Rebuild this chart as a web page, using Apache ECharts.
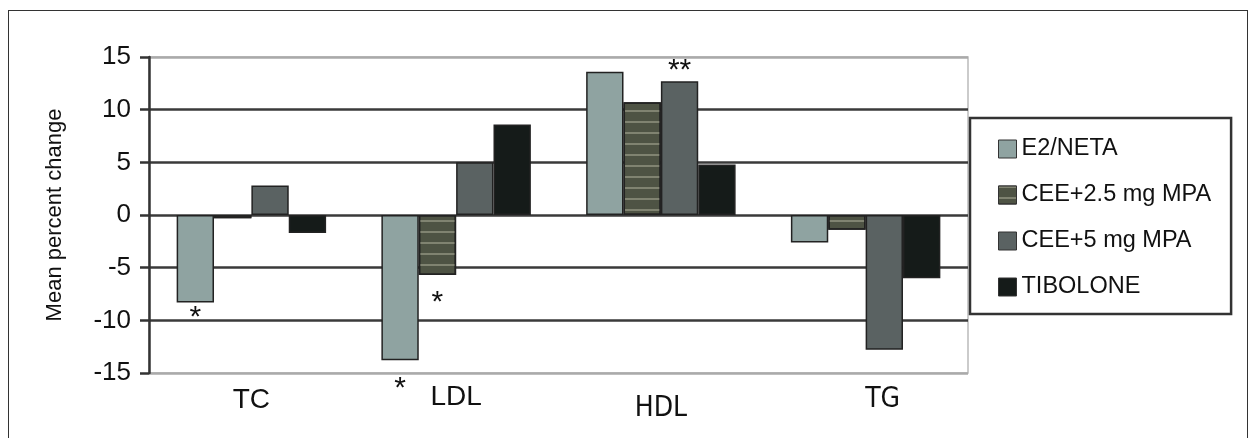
<!DOCTYPE html>
<html>
<head>
<meta charset="utf-8">
<script src="https://cdn.jsdelivr.net/npm/echarts@6/dist/echarts.min.js"></script>
<style>
html,body{margin:0;padding:0;background:#fff;}
#frame{position:absolute;left:8px;top:10px;width:1240px;height:440px;border:1.5px solid #333;box-sizing:border-box;}
#chart{position:absolute;left:0;top:0;width:1251px;height:438px;}
</style>
</head>
<body>
<div id="frame"></div>
<div id="chart"></div>
<script>
const categories = ['TC', 'LDL', 'HDL', 'TG'];
const seriesNames = ['E2/NETA', 'CEE+2.5 mg MPA', 'CEE+5 mg MPA', 'TIBOLONE'];
const e2neta   = [-8.3, -13.8, 13.6, -2.6];
const cee25    = [-0.3, -5.7, 10.7, -1.4];
const cee5     = [2.8, 5.0, 12.7, -12.8];
const tibolone = [-1.7, 8.6, 4.8, -6.0];
const sigE2    = ['*', '*', '', ''];
const sigCee25 = ['', '*', '', ''];
const sigCee5  = ['', '', '**', ''];
const sigTib   = ['', '', '', ''];
const yTicks = [-15, -10, -5, 0, 5, 10, 15];

const values = [e2neta, cee25, cee5, tibolone];
const sigs = [sigE2, sigCee25, sigCee5, sigTib];
const colors = ['#8fa3a1', '#4e5344', '#5a6262', '#151b19'];
const labelDist = [[0, 13, 0, 0], [0, 13, 0, 0], [0, 0, -5, 0], [0, 0, 0, 0]];

const chart = echarts.init(document.getElementById('chart'), null, {renderer: 'canvas'});

const series = seriesNames.map((name, si) => {
  const itemStyle = {color: colors[si], borderColor: '#222', borderWidth: 1.5};
  if (si === 1) {
    itemStyle.decal = {
      symbol: 'rect',
      symbolSize: 1,
      dashArrayX: [1, 0],
      dashArrayY: [1.5, 9],
      rotation: 0,
      color: 'rgba(170,172,150,0.55)'
    };
  }
  return {
    name: name,
    type: 'bar',
    barGap: '0%',
    barCategoryGap: '27%',
    itemStyle: itemStyle,
    data: values[si].map((v, ci) => {
      const s = sigs[si][ci];
      const item = {value: v};
      if (s) {
        item.label = {
          show: true,
          formatter: s,
          position: v < 0 ? 'bottom' : 'top',
          distance: labelDist[si][ci],
          fontSize: 30,
          color: '#111',
          fontFamily: 'Liberation Sans, Arial, sans-serif'
        };
      }
      return item;
    })
  };
});

const narrow = 'Liberation Sans Narrow, DejaVu Sans Condensed, Arial Narrow, sans-serif';
const labelRich = {
  TC:  {fontSize: 28, padding: [3, 0, 0, 0]},
  LDL: {fontSize: 28, padding: [0, 0, 0, 0]},
  HDL: {fontSize: 28, padding: [12, 0, 0, 0], fontFamily: narrow},
  TG:  {fontSize: 28, padding: [3, 0, 0, 34], fontFamily: narrow}
};

chart.setOption({
  animation: false,
  backgroundColor: 'transparent',
  textStyle: {fontFamily: 'Liberation Sans, Arial, sans-serif'},
  grid: {
    left: 149, right: 283, top: 57, bottom: 65,
    show: true, borderColor: '#bbb', borderWidth: 1.5, backgroundColor: 'transparent'
  },
  legend: {
    orient: 'vertical',
    left: 970, top: 118,
    padding: [19, 20, 15, 28],
    itemWidth: 18, itemHeight: 18,
    itemGap: 22,
    borderColor: '#333', borderWidth: 2.5,
    backgroundColor: '#fff',
    textStyle: {fontSize: 23.5, color: '#111', fontFamily: 'Liberation Sans, Arial, sans-serif'},
    data: seriesNames.map((n, i) => ({name: n, icon: 'rect', itemStyle: {color: colors[i], borderColor: '#333', borderWidth: 1}}))
  },
  xAxis: {
    type: 'category',
    data: categories,
    axisLine: {show: false},
    axisTick: {show: false},
    axisLabel: {
      margin: 10,
      color: '#111',
      fontSize: 28,
      formatter: v => '{' + v + '|' + v + '}',
      rich: labelRich
    }
  },
  yAxis: {
    type: 'value',
    min: -15, max: 15, interval: 5,
    name: 'Mean percent change',
    nameLocation: 'middle',
    nameGap: 83,
    nameTextStyle: {fontSize: 22, color: '#111'},
    axisLine: {show: true, lineStyle: {color: '#333', width: 2.5}},
    axisTick: {show: true, length: 9, lineStyle: {color: '#333', width: 2.5}},
    axisLabel: {
      margin: 18, fontSize: 26, color: '#111',
      formatter: v => yTicks.indexOf(v) >= 0 ? String(v) : ''
    },
    splitLine: {
      show: true,
      lineStyle: {color: ['#aaa', '#3a3a3a', '#3a3a3a', '#3a3a3a', '#3a3a3a', '#3a3a3a', '#aaa'], width: 2.5}
    }
  },
  series: series
});
</script>
</body>
</html>
